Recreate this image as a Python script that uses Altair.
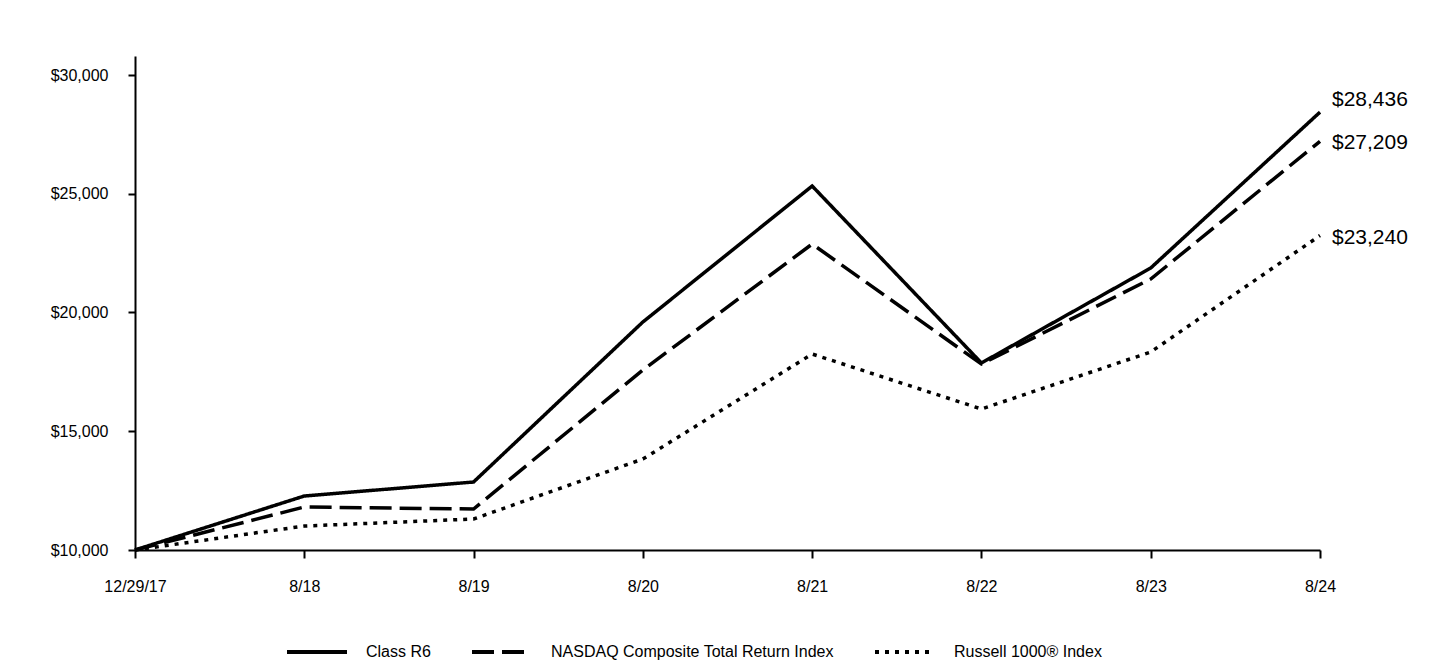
import altair as alt
import pandas as pd

dates = ["12/29/17", "8/18", "8/19", "8/20", "8/21", "8/22", "8/23", "8/24"]
class_r6 = [10000, 12274, 12863, 19600, 25326, 17874, 21873, 28436]
nasdaq = [10000, 11810, 11726, 17578, 22883, 17831, 21409, 27209]
russell = [10000, 11010, 11305, 13831, 18252, 15936, 18336, 23240]
series_names = ["Class R6", "NASDAQ Composite Total Return Index", "Russell 1000® Index"]

rows = []
for name, vals in zip(series_names, [class_r6, nasdaq, russell]):
    for d, v in zip(dates, vals):
        rows.append({"date": d, "value": v, "series": name})
df = pd.DataFrame(rows)

font = "Liberation Sans"

x = alt.X("date:O", sort=dates, title=None,
          scale=alt.Scale(type="point", padding=0),
          axis=alt.Axis(labelAngle=0, tickSize=8, labelPadding=20))
y = alt.Y("value:Q", title=None,
          scale=alt.Scale(domain=[10000, 30800], nice=False, zero=False),
          axis=alt.Axis(values=[10000, 15000, 20000, 25000, 30000], format="$,.0f",
                        tickSize=7, labelPadding=20))

color = alt.Color("series:N", sort=series_names,
                  scale=alt.Scale(domain=series_names, range=["black", "black", "black"]),
                  legend=alt.Legend(title=None, orient="none", legendX=150, legendY=564,
                                    direction="horizontal", symbolType="stroke",
                                    symbolSize=3600, symbolStrokeWidth=4, padding=0,
                                    labelFontSize=16, labelFont=font, labelColor="black",
                                    labelLimit=500, columnPadding=33, labelOffset=17))
dash = alt.StrokeDash("series:N", sort=series_names,
                      scale=alt.Scale(domain=series_names, range=[[1, 0], [22, 8], [4, 6]]),
                      legend=None)

lines = alt.Chart(df).mark_line(strokeWidth=3.5, strokeCap="butt").encode(
    x=x, y=y, color=color, strokeDash=dash, detail="series:N"
)

end_points = alt.Chart(df).transform_filter(alt.datum.date == dates[-1])
label_top = end_points.transform_filter(alt.datum.series == series_names[0]).mark_text(
    align="left", baseline="middle", dx=12, dy=-12, fontSize=21, font=font, color="black"
).encode(x=x, y=y, text=alt.Text("value:Q", format="$,.0f"))
label_rest = end_points.transform_filter(alt.datum.series != series_names[0]).mark_text(
    align="left", baseline="middle", dx=12, dy=2, fontSize=21, font=font, color="black"
).encode(x=x, y=y, text=alt.Text("value:Q", format="$,.0f"))

chart = alt.layer(lines, label_top, label_rest).properties(
    width=1185, height=494,
    background="white",
    autosize=alt.AutoSizeParams(type="none"),
    padding={"left": 135, "top": 56, "right": 120, "bottom": 110},
).configure_view(stroke=None).configure_axis(
    labelFontSize=16, labelFont=font, labelColor="black",
    domainColor="black", domainWidth=2, tickColor="black", tickWidth=2, grid=False
)

chart.save("out.html", embed_options={"renderer": "svg", "actions": False})
